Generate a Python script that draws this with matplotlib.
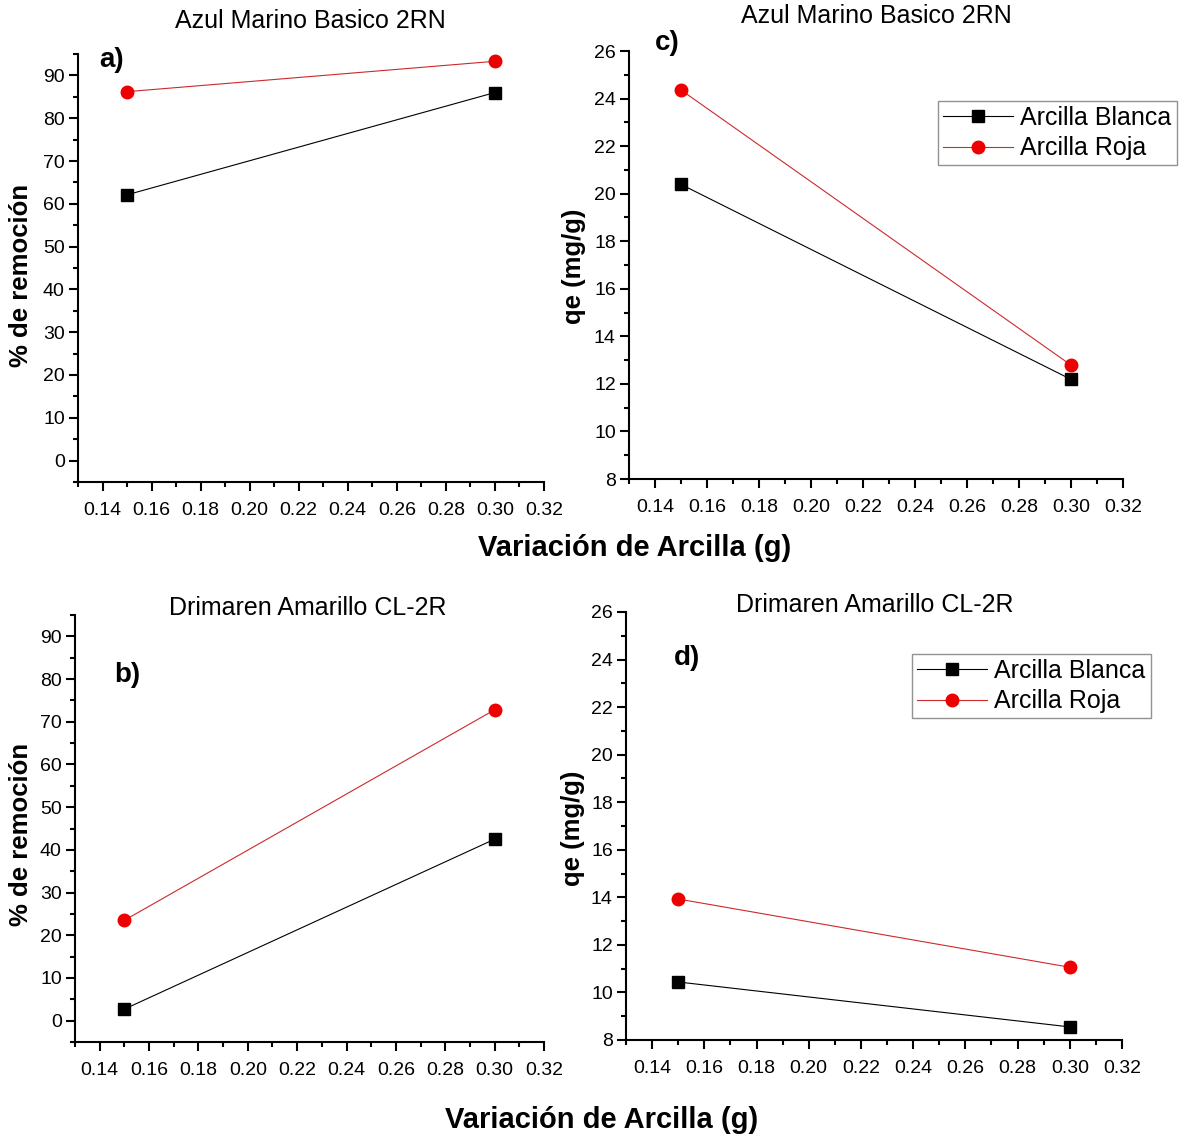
import numpy as np
import matplotlib
matplotlib.use('Agg')
import matplotlib.pyplot as plt
from matplotlib.ticker import MultipleLocator

plt.rcParams['font.family'] = ['Liberation Sans', 'DejaVu Sans']

# data
arcilla = [0.15, 0.30]

# Azul Marino Basico 2RN
rem_blanca_azul = [62.1, 86.0]
rem_roja_azul = [86.2, 93.3]
qe_blanca_azul = [20.39, 12.19]
qe_roja_azul = [24.36, 12.79]

# Drimaren Amarillo CL-2R
rem_blanca_ama = [2.7, 42.5]
rem_roja_ama = [23.5, 72.8]
qe_blanca_ama = [10.44, 8.55]
qe_roja_ama = [13.93, 11.06]

W, H = 1184, 1139
fig = plt.figure(figsize=(W / 100, H / 100), dpi=100)


def px_axes(left, top, right, bottom):
    return fig.add_axes([left / W, 1 - bottom / H, (right - left) / W, (bottom - top) / H])


def px_text(x, y, s, **kw):
    fig.text(x / W, 1 - y / H, s, ha='center', va='center', **kw)


def style_axes(ax, ylim, ymaj, ymin):
    ax.set_xlim(0.13, 0.32)
    ax.set_ylim(*ylim)
    ax.xaxis.set_major_locator(MultipleLocator(0.02))
    ax.xaxis.set_minor_locator(MultipleLocator(0.01))
    ax.yaxis.set_major_locator(MultipleLocator(ymaj))
    ax.yaxis.set_minor_locator(MultipleLocator(ymin))
    ax.xaxis.set_major_formatter(lambda v, p: '%.2f' % v)
    for s in ['top', 'right']:
        ax.spines[s].set_visible(False)
    for s in ['left', 'bottom']:
        ax.spines[s].set_linewidth(1.5)
    ax.tick_params(which='major', direction='out', length=6.5, width=1.5,
                   labelsize=14, pad=3)
    ax.tick_params(which='minor', direction='out', length=3.5, width=1.5)
    ax.tick_params(axis='x', which='major', pad=8)


def plot_pair(ax, blanca, roja):
    l1, = ax.plot(arcilla, blanca, color='black', lw=0.8, marker='s', ms=8,
                  mfc='black', mec='black', label='Arcilla Blanca')
    l2, = ax.plot(arcilla, roja, color='#cc2a2a', lw=0.8, marker='o', ms=9,
                  mfc='#ee0000', mec='#ee0000', label='Arcilla Roja')
    return l1, l2


def add_legend(ax, x, y):
    leg = ax.legend(loc='upper left', bbox_to_anchor=(x / W, 1 - y / H),
                    bbox_transform=fig.transFigure, fontsize=18, frameon=True,
                    fancybox=False, handlelength=2.8, handletextpad=0.3,
                    borderpad=0.2, labelspacing=0.25, borderaxespad=0)
    leg.get_frame().set_edgecolor('#777777')
    leg.get_frame().set_linewidth(1.0)


# a)
ax_a = px_axes(78, 54, 544, 482)
plot_pair(ax_a, rem_blanca_azul, rem_roja_azul)
style_axes(ax_a, (-5, 95), 10, 5)

# c)
ax_c = px_axes(629, 51, 1123, 479)
plot_pair(ax_c, qe_blanca_azul, qe_roja_azul)
style_axes(ax_c, (8, 26), 2, 1)
add_legend(ax_c, 938, 101)

# b)
ax_b = px_axes(75, 615, 544, 1042)
plot_pair(ax_b, rem_blanca_ama, rem_roja_ama)
style_axes(ax_b, (-5, 95), 10, 5)

# d)
ax_d = px_axes(626, 612, 1122, 1040)
plot_pair(ax_d, qe_blanca_ama, qe_roja_ama)
style_axes(ax_d, (8, 26), 2, 1)
add_legend(ax_d, 912, 654)

# titles
px_text(310, 21, 'Azul Marino Basico 2RN', fontsize=18)
px_text(876, 16, 'Azul Marino Basico 2RN', fontsize=18)
px_text(308, 608, 'Drimaren Amarillo CL-2R', fontsize=18)
px_text(875, 605, 'Drimaren Amarillo CL-2R', fontsize=18)

# panel letters
px_text(112, 60, 'a)', fontsize=20, fontweight='bold')
px_text(667, 43, 'c)', fontsize=20, fontweight='bold')
px_text(127, 675, 'b)', fontsize=20, fontweight='bold')
px_text(687, 658, 'd)', fontsize=20, fontweight='bold')

# axis labels
px_text(21, 275, '% de remoción', fontsize=18.5, fontweight='bold', rotation=90)
px_text(21, 834, '% de remoción', fontsize=18.5, fontweight='bold', rotation=90)
px_text(574, 266, 'qe (mg/g)', fontsize=18.5, fontweight='bold', rotation=90)
px_text(573, 828, 'qe (mg/g)', fontsize=18.5, fontweight='bold', rotation=90)
px_text(635, 548, 'Variación de Arcilla (g)', fontsize=21, fontweight='bold')
px_text(602, 1120, 'Variación de Arcilla (g)', fontsize=21, fontweight='bold')

plt.savefig('out.png', dpi=100)
